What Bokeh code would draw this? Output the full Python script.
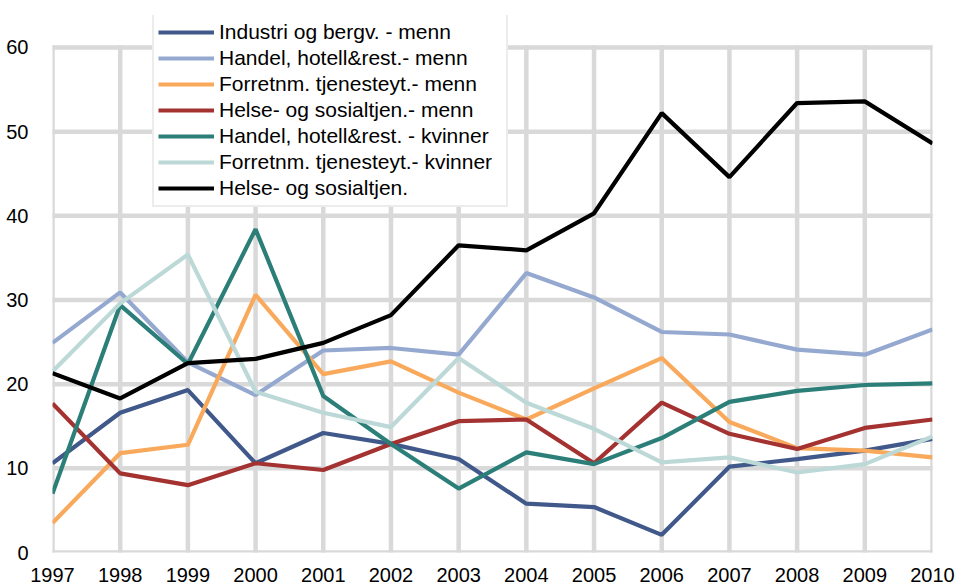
from bokeh.plotting import figure
from bokeh.models import Range1d, Legend, LegendItem, FixedTicker
from bokeh.embed import file_html
from bokeh.resources import INLINE

years = [1997, 1998, 1999, 2000, 2001, 2002, 2003, 2004, 2005, 2006, 2007, 2008, 2009, 2010]

industri_menn = [10.6, 16.6, 19.3, 10.6, 14.2, 12.9, 11.1, 5.8, 5.4, 2.1, 10.2, 11.1, 12.1, 13.5]
handel_menn = [24.9, 30.9, 22.6, 18.7, 24.0, 24.3, 23.5, 33.2, 30.3, 26.2, 25.9, 24.1, 23.5, 26.5]
forretnm_menn = [3.5, 11.8, 12.8, 30.6, 21.2, 22.7, 19.0, 15.8, 19.5, 23.1, 15.5, 12.4, 12.1, 11.3]
helse_menn = [17.7, 9.4, 8.0, 10.6, 9.8, 12.9, 15.6, 15.8, 10.6, 17.8, 14.1, 12.3, 14.8, 15.8]
handel_kvinner = [7.0, 29.4, 22.4, 38.4, 18.6, 12.9, 7.6, 11.9, 10.5, 13.6, 17.9, 19.2, 19.9, 20.1]
forretnm_kvinner = [21.5, 29.6, 35.4, 19.1, 16.6, 14.9, 23.1, 17.8, 14.7, 10.7, 11.3, 9.5, 10.5, 13.8]
helse_kvinner = [21.3, 18.3, 22.5, 23.0, 24.9, 28.2, 36.5, 35.9, 40.3, 52.2, 44.6, 53.4, 53.6, 48.6]

labels = [
    "Industri og bergv. - menn",
    "Handel, hotell&rest.- menn",
    "Forretnm. tjenesteyt.- menn",
    "Helse- og sosialtjen.- menn",
    "Handel, hotell&rest. - kvinner",
    "Forretnm. tjenesteyt.- kvinner",
    "Helse- og sosialtjen.",
]
series = [industri_menn, handel_menn, forretnm_menn, helse_menn,
          handel_kvinner, forretnm_kvinner, helse_kvinner]
colors = ["#40598a", "#95a9d0", "#f9a95c", "#a33231", "#2b7f78", "#bcd9d7", "#000000"]

y_ticks = [0, 10, 20, 30, 40, 50, 60]
y_min, y_max = 0, 60

FONT = "Liberation Sans"
GRID = "#d9d9d9"

# frame extends a little above 60 so that the legend (which overlaps the top) is not clipped
p = figure(width=957, height=585, output_backend="svg", toolbar_location=None,
           x_range=Range1d(years[0], years[-1]), y_range=Range1d(y_min, 63.8),
           min_border_left=52, min_border_right=25, min_border_top=15, min_border_bottom=33)

p.outline_line_color = None
p.background_fill_color = "white"
p.border_fill_color = "white"
p.xgrid.visible = False
p.ygrid.visible = False

for ax in (p.xaxis[0], p.yaxis[0]):
    ax.axis_line_color = None
    ax.major_tick_line_color = None
    ax.minor_tick_line_color = None
    ax.major_label_text_font = FONT
    ax.major_label_text_font_size = "20px"
    ax.major_label_text_color = "#000000"

p.xaxis.ticker = FixedTicker(ticks=years)
p.yaxis.ticker = FixedTicker(ticks=y_ticks)
p.xaxis.major_label_standoff = 9
p.yaxis.major_label_standoff = 18

# grid drawn as segments limited to the data area
p.segment(x0=years, y0=[y_min] * len(years), x1=years, y1=[y_max] * len(years),
          line_color=GRID, line_width=4.5, line_cap="square")
p.segment(x0=[years[0]] * len(y_ticks), y0=y_ticks, x1=[years[-1]] * len(y_ticks), y1=y_ticks,
          line_color=GRID, line_width=4.5, line_cap="square")

items = []
for lab, vals, col in zip(labels, series, colors):
    r = p.line(years, vals, line_color=col, line_width=4.2)
    items.append(LegendItem(label=lab, renderers=[r]))

legend = Legend(items=items, location=(100, 345))
legend.label_text_font = FONT
legend.label_text_font_size = "21px"
legend.label_text_color = "#000000"
legend.label_height = 26
legend.label_width = 283
legend.glyph_height = 26
legend.glyph_width = 56
legend.label_standoff = 5
legend.spacing = 0
legend.padding = 4
legend.margin = 0
legend.border_line_color = GRID
legend.border_line_width = 2
legend.background_fill_color = "white"
legend.background_fill_alpha = 1
p.add_layout(legend)

open("out.html", "w").write(file_html(p, INLINE))
